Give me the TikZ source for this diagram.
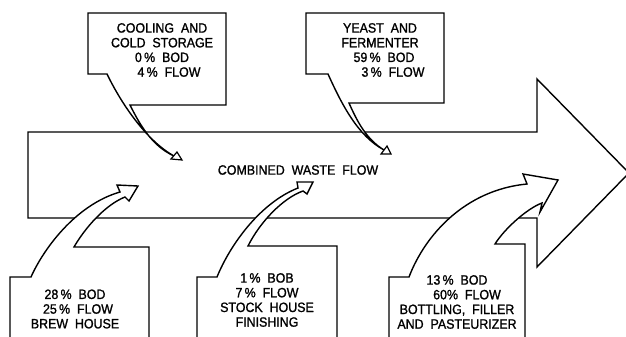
\documentclass[tikz,border=0pt]{standalone}
\usepackage{fontspec}
\newfontfamily\lett{Liberation Sans}[FakeStretch=0.92,WordSpace=2,FakeBold=1.2]
\begin{document}
\begin{tikzpicture}[x=1pt,y=-1pt,line join=miter,
  outl/.style={draw=black,line width=1.4pt,fill=white},
  tri/.style={draw=black,line width=1.2pt,fill=white},
  lbl/.style={font=\lett\fontsize{13.5}{14.7}\selectfont,align=center,inner sep=0pt}]
\useasboundingbox (0,0) rectangle (626,337);
\fill[white] (0,0) rectangle (626,337);
\clip (0,0) rectangle (626,337);
% big arrow
\draw[outl] (28,132) -- (537,132) -- (537,79) -- (629,173) -- (537,267) -- (537,218) -- (28,218) -- cycle;
\node[lbl] (main) at (298,170) {COMBINED WASTE FLOW};
% top callouts
\draw[outl] (88,13) -- (226,13) -- (226,105) -- (130,105)
  .. controls (140,125) and (152,146) .. (174,156)
  .. controls (147,141) and (122,105) .. (107,74) -- (88,74) -- cycle;
\draw[tri] (171,159) -- (182,160) -- (177,152) -- cycle;
\draw[outl] (306,13) -- (444,13) -- (444,103) -- (349,103)
  .. controls (357,121) and (366,139) .. (384,150)
  .. controls (358,136) and (342,105) .. (328,74) -- (306,74) -- cycle;
\draw[tri] (381,154) -- (391,154) -- (387,146) -- cycle;
\node[lbl] (cool) at (162,50) {COOLING AND\\COLD STORAGE\\0\,\% BOD\\\hspace*{14pt}4\,\% FLOW};
\node[lbl] (yeast) at (380,50) {YEAST AND\\FERMENTER\\\hspace*{8pt}59\,\% BOD\\\hspace*{26pt}3\,\% FLOW};
% bottom callouts
\draw[outl] (10,342) -- (10,277) -- (31,277)
  .. controls (43,250) and (75,205) .. (120,192)
  -- (117,185) -- (138,186) -- (129,201) -- (125,197)
  .. controls (105,205) and (85,228) .. (74,247)
  -- (149,247) -- (149,342) -- cycle;
\draw[outl] (197,342) -- (197,277) -- (217,277)
  .. controls (230,245) and (260,203) .. (298,188)
  -- (297,182) -- (313,182) -- (307,194) -- (303,191)
  .. controls (283,198) and (260,222) .. (248,246)
  -- (337,246) -- (337,342) -- cycle;
\draw[outl] (389,342) -- (389,277) -- (409,277)
  .. controls (425,235) and (465,190) .. (527,184)
  -- (523,174) -- (558,180) -- (540,212) -- (542,203)
  .. controls (528,208) and (505,228) .. (495,244)
  -- (525,244) -- (525,342) -- cycle;
\node[lbl] (brew) at (75,309) {28\,\% BOD\\\hspace*{6pt}25\,\% FLOW\\BREW HOUSE};
\node[lbl] (stock) at (267,300) {1\,\% BOB\\7\,\% FLOW\\STOCK HOUSE\\FINISHING};
\node[lbl] (bottle) at (457,302) {13\,\% BOD\\\hspace*{20pt}60\% FLOW\\BOTTLING, FILLER\\AND PASTEURIZER};
\end{tikzpicture}
\end{document}
